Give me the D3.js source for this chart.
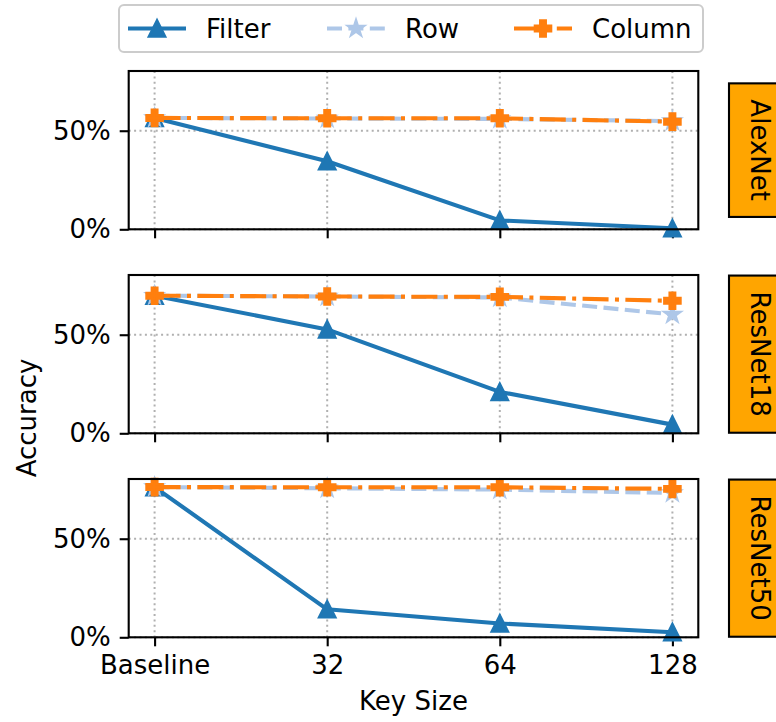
<!DOCTYPE html>
<html>
<head>
<meta charset="utf-8">
<script src="https://cdn.jsdelivr.net/npm/d3@7"></script>
<style>
  body { margin: 0; background: #fff; }
  text { font-family: "DejaVu Sans", sans-serif; fill: #000; }
</style>
</head>
<body>
<svg id="chart" width="776" height="722"></svg>
<script>
// Key sizes on the x axis and the three networks (one panel each)
const keySizes = ["Baseline", "32", "64", "128"];
const models = ["AlexNet", "ResNet18", "ResNet50"];
const yTicks = [0, 50];

// Accuracy (%) per model, in key-size order
const filterAcc = [
  [56.5, 34.5, 4.5, 0.5],
  [69.8, 52.7, 21.0, 4.4],
  [76.2, 14.2, 7.0, 2.6]
];
const rowAcc = [
  [56.5, 56.2, 56.0, 54.9],
  [69.8, 69.4, 68.9, 60.3],
  [76.2, 75.6, 74.9, 73.2]
];
const columnAcc = [
  [56.5, 56.3, 56.3, 54.6],
  [69.8, 69.4, 69.2, 67.2],
  [76.2, 76.1, 76.1, 75.3]
];

const series = [
  { name: "Filter", data: filterAcc, color: "#1f77b4", dash: null, marker: "triangle" },
  { name: "Row", data: rowAcc, color: "#aec7e8", dash: "15,6.4", marker: "star" },
  { name: "Column", data: columnAcc, color: "#ff7f0e", dash: "26,6.4,4,6.4", marker: "plus" }
];

const svg = d3.select("#chart");
const fontSize = 26;
const lw = 4.1;          // line width
const mSize = 16;        // marker size
const mEdge = 2.6;       // marker edge width

const left = 128.7, right = 698.3;
const panelTops = [71, 275, 479];
const panelH = 158.3;

const x = d3.scaleLinear().domain([-0.15, keySizes.length - 1 + 0.15]).range([left, right]);

function markerPath(type, s) {
  const h = s / 2;
  if (type === "triangle") {
    return `M0,${-h}L${-h},${h}L${h},${h}Z`;
  }
  if (type === "plus") {
    const a = s / 6, b = s / 2;
    return `M${-a},${-b}L${a},${-b}L${a},${-a}L${b},${-a}L${b},${a}L${a},${a}L${a},${b}L${-a},${b}L${-a},${a}L${-b},${a}L${-b},${-a}L${-a},${-a}Z`;
  }
  // five-pointed star
  const pts = [];
  for (let i = 0; i < 10; i++) {
    const r = i % 2 === 0 ? h : h * 0.381966;
    const ang = -Math.PI / 2 + i * Math.PI / 5;
    pts.push([r * Math.cos(ang), r * Math.sin(ang)]);
  }
  return "M" + pts.map(p => p[0].toFixed(2) + "," + p[1].toFixed(2)).join("L") + "Z";
}

models.forEach((model, mi) => {
  const top = panelTops[mi];
  const y = d3.scaleLinear().domain([0, 80.3]).range([top + panelH, top]);
  const g = svg.append("g");

  // dotted grid
  g.selectAll(".vgrid").data(keySizes).join("line")
    .attr("x1", (d, i) => x(i)).attr("x2", (d, i) => x(i))
    .attr("y1", top).attr("y2", top + panelH)
    .attr("stroke", "#b0b0b0").attr("stroke-width", 2)
    .attr("stroke-dasharray", "2,3.4");
  g.selectAll(".hgrid").data(yTicks).join("line")
    .attr("x1", left).attr("x2", right)
    .attr("y1", d => y(d)).attr("y2", d => y(d))
    .attr("stroke", "#b0b0b0").attr("stroke-width", 2)
    .attr("stroke-dasharray", "2,3.4");

  // axes
  const yAxis = d3.axisLeft(y).tickValues(yTicks).tickFormat(d => d + "%")
    .tickSize(9).tickPadding(9);
  const ya = g.append("g").attr("transform", `translate(${left},0)`).call(yAxis);
  const xAxis = d3.axisBottom(x).tickValues(d3.range(keySizes.length))
    .tickFormat(i => mi === models.length - 1 ? keySizes[i] : "")
    .tickSize(9).tickPadding(9);
  const xa = g.append("g").attr("transform", `translate(0,${top + panelH})`).call(xAxis);
  [ya, xa].forEach(a => {
    a.select(".domain").remove();
    a.selectAll(".tick line").attr("stroke", "#000").attr("stroke-width", 2.1);
    a.selectAll(".tick text").attr("font-size", fontSize).attr("fill", "#000")
      .style("font-family", "DejaVu Sans");
  });

  // series lines and markers
  series.forEach(s => {
    const vals = s.data[mi];
    const line = d3.line().x((d, i) => x(i)).y(d => y(d));
    g.append("path").datum(vals)
      .attr("d", line).attr("fill", "none")
      .attr("stroke", s.color).attr("stroke-width", lw)
      .attr("stroke-linejoin", "round")
      .attr("stroke-dasharray", s.dash);
    g.selectAll(null).data(vals).join("path")
      .attr("transform", (d, i) => `translate(${x(i)},${y(d)})`)
      .attr("d", markerPath(s.marker, mSize))
      .attr("fill", s.color).attr("stroke", s.color).attr("stroke-width", mEdge)
      .attr("stroke-linejoin", "miter");
  });

  // frame
  g.append("rect").attr("x", left).attr("y", top).attr("width", right - left).attr("height", panelH)
    .attr("fill", "none").attr("stroke", "#000").attr("stroke-width", 2.1);

  // model label box on the right
  const cy = top + panelH / 2;
  const lg = svg.append("g");
  const box = lg.append("rect");
  const lbl = lg.append("text")
    .attr("transform", `translate(751,${cy}) rotate(90)`)
    .attr("text-anchor", "middle")
    .attr("font-size", fontSize)
    .text(model);
  const len = lbl.node().getComputedTextLength();
  box.attr("x", 729).attr("y", cy - len / 2 - 16)
    .attr("width", 70).attr("height", len + 32)
    .attr("fill", "#ffa500").attr("stroke", "#000").attr("stroke-width", 2.1);
});

// axis titles
svg.append("text").attr("x", (left + right) / 2).attr("y", 710)
  .attr("text-anchor", "middle").attr("font-size", fontSize).text("Key Size");
svg.append("text").attr("transform", "translate(36,418) rotate(-90)")
  .attr("text-anchor", "middle").attr("font-size", fontSize).text("Accuracy");

// legend
const leg = svg.append("g");
leg.append("rect").attr("x", 119).attr("y", 5).attr("width", 584).attr("height", 47)
  .attr("rx", 5).attr("fill", "#fff").attr("fill-opacity", 0.8)
  .attr("stroke", "#cccccc").attr("stroke-width", 2);
const legendX = [128, 327, 514];
series.forEach((s, i) => {
  const x0 = legendX[i], ly = 28.5;
  leg.append("line").attr("x1", x0).attr("x2", x0 + 58).attr("y1", ly).attr("y2", ly)
    .attr("stroke", s.color).attr("stroke-width", lw).attr("stroke-dasharray", s.dash);
  leg.append("path").attr("transform", `translate(${x0 + 29},${ly})`)
    .attr("d", markerPath(s.marker, mSize))
    .attr("fill", s.color).attr("stroke", s.color).attr("stroke-width", mEdge);
  leg.append("text").attr("x", x0 + 78).attr("y", ly).attr("dy", "0.35em")
    .attr("font-size", fontSize).text(s.name);
});
</script>
</body>
</html>
